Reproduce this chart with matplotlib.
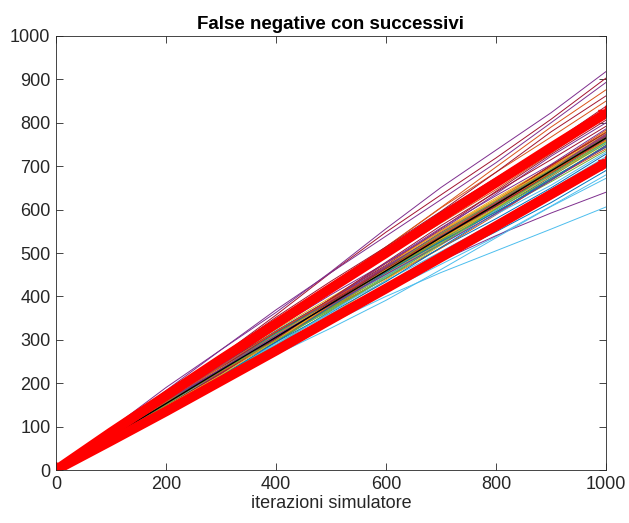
import matplotlib
matplotlib.use("Agg")
import matplotlib.pyplot as plt

# iteration checkpoints
iterations = [0, 100, 200, 300, 400, 500, 600, 700, 800, 900, 1000]

# simulated runs (value at every checkpoint)
runs = [
    [0, 78, 158, 241, 321, 394, 466, 538, 612, 691, 772],
    [0, 85, 174, 265, 347, 429, 514, 605, 698, 790, 876],
    [0, 90, 175, 248, 318, 390, 460, 530, 600, 672, 744],
    [0, 95, 190, 277, 363, 457, 556, 651, 737, 823, 918],
    [0, 73, 151, 230, 301, 371, 444, 524, 605, 686, 760],
    [0, 72, 142, 210, 276, 340, 400, 455, 505, 555, 606],
    [0, 88, 176, 263, 357, 455, 548, 634, 719, 808, 903],
    [0, 69, 142, 217, 283, 349, 418, 493, 570, 646, 716],
    [0, 84, 173, 253, 334, 424, 514, 604, 686, 767, 850],
    [0, 79, 160, 243, 324, 398, 471, 544, 618, 698, 780],
    [0, 90, 183, 277, 369, 455, 539, 623, 708, 800, 893],
    [0, 74, 152, 232, 303, 374, 448, 528, 610, 691, 766],
    [0, 69, 140, 213, 284, 348, 411, 474, 538, 608, 680],
    [0, 88, 170, 262, 352, 435, 514, 596, 686, 779, 862],
    [0, 71, 141, 210, 287, 367, 443, 512, 579, 650, 728],
    [0, 76, 146, 225, 303, 374, 441, 511, 588, 669, 740],
    [0, 62, 130, 204, 280, 358, 438, 518, 598, 676, 752],
    [0, 74, 146, 218, 288, 356, 420, 482, 540, 592, 640],
    [0, 79, 152, 234, 315, 389, 459, 532, 612, 696, 770],
    [0, 73, 146, 211, 275, 347, 424, 497, 561, 625, 698],
    [0, 87, 174, 253, 331, 417, 508, 595, 673, 751, 838],
    [0, 77, 155, 236, 314, 386, 457, 527, 599, 676, 756],
    [0, 83, 167, 254, 338, 416, 492, 569, 646, 730, 815],
    [0, 77, 158, 231, 304, 387, 470, 552, 627, 700, 776],
    [0, 81, 161, 240, 327, 417, 503, 582, 659, 740, 828],
    [0, 78, 156, 226, 295, 372, 454, 532, 601, 670, 748],
    [0, 73, 140, 217, 292, 360, 424, 491, 566, 644, 712],
    [0, 78, 160, 244, 319, 394, 472, 556, 642, 727, 806],
    [0, 67, 133, 199, 272, 348, 420, 485, 549, 616, 690],
    [0, 76, 152, 227, 309, 395, 476, 550, 623, 700, 783],
    [0, 79, 159, 231, 302, 380, 463, 543, 614, 685, 764],
    [0, 82, 158, 243, 327, 404, 477, 553, 636, 723, 800],
    [0, 73, 150, 219, 288, 367, 446, 524, 595, 664, 736],
    [0, 73, 148, 226, 301, 369, 436, 503, 572, 646, 722],
    [0, 78, 161, 236, 311, 395, 479, 563, 640, 715, 792],
    [0, 77, 156, 238, 317, 389, 460, 531, 604, 682, 762],
    [0, 75, 155, 235, 308, 380, 455, 537, 619, 702, 778],
    [0, 76, 157, 229, 302, 384, 466, 548, 622, 695, 770],
    [0, 82, 163, 238, 310, 391, 477, 558, 632, 704, 786],
    [0, 74, 153, 224, 295, 375, 455, 535, 608, 679, 752],
    [0, 70, 144, 210, 276, 352, 427, 503, 570, 637, 705],
    [0, 80, 153, 236, 318, 393, 463, 537, 618, 702, 777],
    [0, 71, 148, 225, 295, 363, 434, 513, 592, 672, 744],
    [0, 74, 153, 234, 306, 377, 451, 532, 615, 697, 772],
    [0, 81, 161, 235, 306, 386, 470, 551, 623, 695, 775],
    [0, 75, 150, 224, 306, 390, 470, 544, 616, 692, 774],
    [0, 79, 151, 233, 313, 387, 457, 529, 609, 692, 766],
    [0, 76, 152, 222, 289, 364, 444, 520, 589, 656, 732],
    [0, 75, 149, 223, 304, 388, 467, 540, 612, 687, 769],
    [0, 79, 158, 229, 299, 377, 460, 539, 609, 679, 758],
    [0, 78, 157, 239, 319, 392, 463, 535, 608, 686, 767],
    [0, 78, 150, 231, 311, 384, 453, 525, 604, 687, 760],
    [0, 80, 160, 233, 304, 383, 467, 547, 619, 690, 770],
    [0, 76, 156, 228, 300, 382, 464, 545, 619, 691, 766],
    [0, 77, 149, 229, 309, 381, 449, 521, 599, 682, 754],
    [0, 74, 148, 221, 302, 385, 464, 537, 608, 683, 764],
    [0, 73, 145, 216, 295, 377, 455, 526, 595, 668, 748],
    [0, 75, 155, 226, 298, 379, 460, 541, 614, 686, 760],
    [0, 74, 147, 219, 299, 382, 461, 533, 603, 677, 758],
    [0, 76, 153, 233, 310, 381, 451, 520, 591, 667, 746],
    [0, 73, 150, 229, 299, 369, 442, 521, 602, 682, 756],
    [0, 64, 133, 204, 266, 327, 391, 462, 535, 607, 672],
]

# mean of the runs and the two red bounds
mean_run = [0, 77, 153, 230, 306, 383, 459, 536, 612, 689, 765]
upper_bound = [0, 87, 171, 255, 337, 419, 500, 582, 662, 743, 822]
lower_bound = [0, 67, 135, 205, 275, 347, 418, 490, 562, 635, 708]

# MATLAB default line colours
matlab_colors = ['#0072BD', '#D95319', '#EDB120', '#7E2F8E',
                 '#77AC30', '#4DBEEE', '#A2142F']

plt.rcParams['font.family'] = ['Liberation Sans', 'DejaVu Sans']

fig = plt.figure(figsize=(6.29, 5.23), dpi=100)
ax = fig.add_axes([0.089, 0.1013, 0.8744, 0.8299])

for i, run in enumerate(runs):
    ax.plot(iterations, run, color=matlab_colors[i % len(matlab_colors)],
            linewidth=0.7)

ax.plot(iterations, mean_run, color='black', linewidth=1.0)

# thick red bounds with star markers at the ends
for bound in (upper_bound, lower_bound):
    ax.plot(iterations, bound, color='red', linewidth=7,
            solid_capstyle='butt')
    ax.plot([iterations[0], iterations[-1]], [bound[0], bound[-1]],
            linestyle='none', marker='*', markersize=12, color='red')

ax.set_xlim(0, 1000)
ax.set_ylim(0, 1000)
ax.set_xticks(range(0, 1001, 200))
ax.set_yticks(range(0, 1001, 100))

gray = '#262626'
ax.tick_params(direction='in', length=5, width=0.6, top=True, right=True,
               labelsize=13, colors=gray, pad=4)
for spine in ax.spines.values():
    spine.set_color(gray)
    spine.set_linewidth(0.6)

ax.set_title('False negative con successivi', fontsize=13.5,
             fontweight='bold', color='black', pad=5)
ax.set_xlabel('iterazioni simulatore', fontsize=13, color=gray, labelpad=2)

fig.savefig('out.png', dpi=100, facecolor='white')
